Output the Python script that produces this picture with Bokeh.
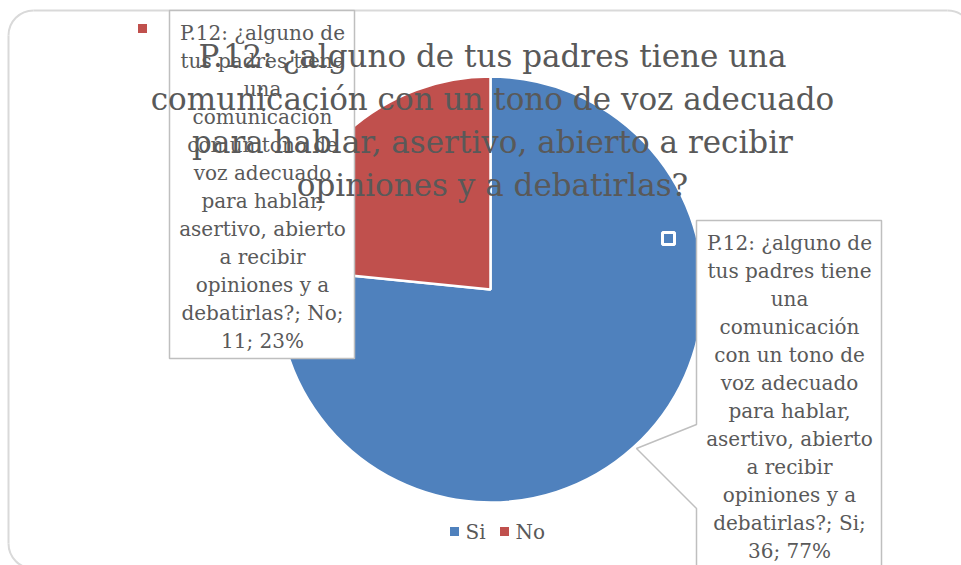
import math
from bokeh.plotting import figure
from bokeh.models import Range1d
from bokeh.core.properties import value
from bokeh.embed import file_html
from bokeh.resources import INLINE

# ---------------- data ----------------
categories = ["Si", "No"]
counts = [36, 11]
colors = ["#4F81BD", "#C0504D"]
title_lines = [
    "P.12: ¿alguno de tus padres tiene una",
    "comunicación con un tono de voz adecuado",
    "para hablar, asertivo, abierto a recibir",
    "opiniones y a debatirlas?",
]
question_wrapped = [
    "P.12: ¿alguno de", "tus padres tiene", "una", "comunicación",
    "con un tono de", "voz adecuado", "para hablar,", "asertivo, abierto",
    "a recibir", "opiniones y a",
]

FONT = value("DejaVu Serif")
GREY = "#595959"

W, H = 961, 565
def Y(py):  # page y (top-down) -> data y (bottom-up)
    return H - py

p = figure(width=W, height=H, x_range=Range1d(0, W), y_range=Range1d(0, H),
           output_backend="svg", toolbar_location=None, min_border=0,
           outline_line_color=None, background_fill_color="white",
           border_fill_color="white")
p.axis.visible = False
p.grid.visible = False

# chart-area rounded border
bc = "#D9D9D9"
p.line([33, 947], [Y(10), Y(10)], line_color=bc, line_width=2)
p.line([8, 8], [Y(35), Y(543)], line_color=bc, line_width=2)
p.line([33, 947], [Y(568), Y(568)], line_color=bc, line_width=2)
p.arc(x=[33], y=[Y(35)], radius=25, start_angle=math.pi / 2, end_angle=math.pi,
      line_color=bc, line_width=2)
p.arc(x=[947], y=[Y(35)], radius=25, start_angle=0, end_angle=math.pi / 2,
      line_color=bc, line_width=2)
p.arc(x=[33], y=[Y(543)], radius=25, start_angle=math.pi, end_angle=1.5 * math.pi,
      line_color=bc, line_width=2)

# pie
total = sum(counts)
cx, cy, r = 490, Y(289), 213
cum = 0.0
starts, ends = [], []
for c in counts:
    end = math.pi / 2 - cum / total * 2 * math.pi
    cum += c
    start = math.pi / 2 - cum / total * 2 * math.pi
    starts.append(start)
    ends.append(end)
p.wedge(x=[cx] * len(counts), y=[cy] * len(counts), radius=r,
        start_angle=starts, end_angle=ends, fill_color=colors,
        line_color="white", line_width=2.5)

pcts = [round(100 * c / total) for c in counts]
def label_lines(i):
    return question_wrapped + [f"debatirlas?; {categories[i]};", f"{counts[i]}; {pcts[i]}%"]

box_line = "#BFBFBF"
# No label box
p.patch([169, 354, 354, 169], [Y(10), Y(10), Y(358), Y(358)],
        fill_color="white", line_color=box_line, line_width=1.5)
# Si label callout
p.patch([696, 881, 881, 696, 696, 636, 696],
        [Y(220), Y(220), Y(620), Y(620), Y(508), Y(448), Y(424)],
        fill_color="white", line_color=box_line, line_width=1.5)

lines_no = label_lines(1)
p.text(x=[262] * len(lines_no), y=[Y(32 + 28 * k) for k in range(len(lines_no))],
       text=lines_no, text_font=FONT, text_font_size="20px", text_color=GREY,
       text_align="center", text_baseline="middle")
lines_si = label_lines(0)
p.text(x=[789] * len(lines_si), y=[Y(242 + 28 * k) for k in range(len(lines_si))],
       text=lines_si, text_font=FONT, text_font_size="20px", text_color=GREY,
       text_align="center", text_baseline="middle")

# label legend keys
p.rect(x=[142], y=[Y(28)], width=9, height=9, fill_color=colors[1], line_color=None)
p.rect(x=[668], y=[Y(238)], width=12, height=12, fill_color=colors[0],
       line_color="white", line_width=3)

# title
p.text(x=[492] * len(title_lines), y=[Y(55 + 43 * k) for k in range(len(title_lines))],
       text=title_lines, text_font=FONT, text_font_size="31px", text_color=GREY,
       text_align="center", text_baseline="middle")

# legend
leg_x = [454, 504]
p.rect(x=leg_x, y=[Y(531)] * 2, width=9, height=9, fill_color=colors, line_color=None)
p.text(x=[x + 11 for x in leg_x], y=[Y(531)] * 2, text=categories, text_font=FONT,
       text_font_size="20px", text_color=GREY, text_align="left", text_baseline="middle")

open("out.html", "w").write(file_html(p, INLINE))
